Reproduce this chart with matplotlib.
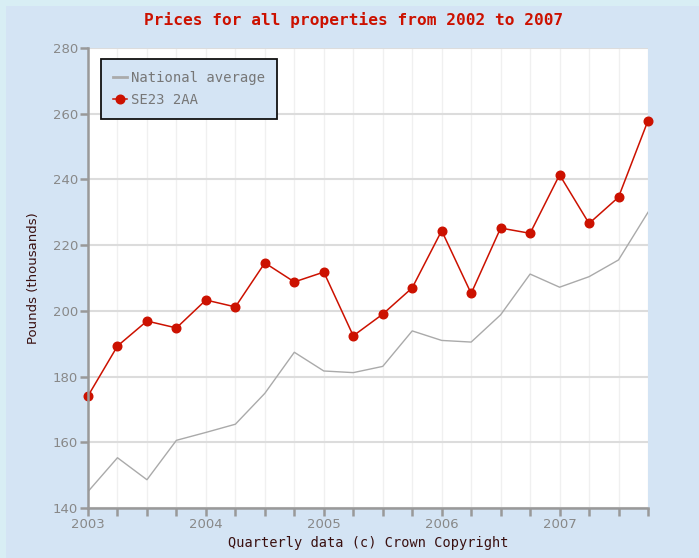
import matplotlib
matplotlib.use("Agg")
import matplotlib.pyplot as plt
from matplotlib.patches import Rectangle
import numpy as np

quarters = [2003 + 0.25 * i for i in range(20)]
national_average = [145.0, 155.3, 148.6, 160.6, 163.0, 165.5, 174.9, 187.4, 181.7, 181.2,
                    183.1, 193.9, 191.0, 190.5, 198.8, 211.2, 207.2, 210.4, 215.5, 230.0]
se23_2aa = [174.1, 189.3, 196.9, 194.8, 203.3, 201.2, 214.6, 208.8, 211.8, 192.4,
            199.0, 207.0, 224.4, 205.3, 225.2, 223.6, 241.4, 226.6, 234.6, 257.9]
year_ticks = [2003, 2004, 2005, 2006, 2007]
y_ticks = [140, 160, 180, 200, 220, 240, 260, 280]

W, H = 699, 558
fig = plt.figure(figsize=(W / 100, H / 100), dpi=100)
fig.patch.set_facecolor("#d8eef4")
fig.patches.append(Rectangle((6 / W, 0), 1, 1 - 6 / H, transform=fig.transFigure,
                             facecolor="#d4e4f4", edgecolor="none", zorder=-10))

ax = fig.add_axes([88 / W, 1 - 508 / H, (648 - 88) / W, (508 - 48) / H])
ax.set_zorder(2)
ax.set_facecolor("white")

ax.plot(quarters, national_average, color="#aaaaaa", lw=1.0, label="National average", zorder=3)
ax.plot(quarters, se23_2aa, color="#cc1100", lw=1.1, marker="o", markersize=6.2,
        markeredgecolor="#cc1100", markerfacecolor="#cc1100", label="SE23 2AA", zorder=4,
        clip_on=False)

ax.set_xlim(2003, 2007.75)
ax.set_ylim(140, 280)

ax.set_xticks(quarters)
ax.set_xticklabels([str(int(q)) if q in year_ticks else "" for q in quarters])
ax.set_yticks(y_ticks)

for y in y_ticks:
    ax.axhline(y, color="#dcdcdc", lw=1.5, zorder=1)
for q in quarters:
    ax.axvline(q, color="#f0f0f0", lw=1.0, zorder=0.5)

for s in ["top", "right"]:
    ax.spines[s].set_visible(False)
for s in ["left", "bottom"]:
    ax.spines[s].set_color("#999999")
    ax.spines[s].set_linewidth(1.8)
    ax.spines[s].set_zorder(5)

ax.tick_params(axis="both", colors="#999999", width=1.8, length=6, labelcolor="#888888",
               labelsize=9.5, pad=1)

ax.set_xlabel("Quarterly data (c) Crown Copyright", family="DejaVu Sans Mono",
              fontsize=9.8, color="#3a1010", labelpad=4)
ax.set_ylabel("Pounds (thousands)", family="DejaVu Sans", fontsize=9.5, color="#3a1010",
              labelpad=9)

fig.text(354 / W, 1 - 20 / H, "Prices for all properties from 2002 to 2007",
         family="DejaVu Sans Mono", fontweight="bold", fontsize=11.6, color="#cc1100",
         ha="center", va="center")

leg = ax.legend(loc="upper left", bbox_to_anchor=(13 / 560, 1 - 11 / 460),
                prop={"family": "DejaVu Sans Mono", "size": 10}, frameon=True,
                fancybox=False, borderpad=0.85, handlelength=1.0, handletextpad=0.3,
                labelspacing=0.6, borderaxespad=0)
leg.get_frame().set_facecolor("#d4e4f4")
leg.get_frame().set_edgecolor("#111111")
leg.get_frame().set_linewidth(1.3)
leg.get_frame().set_alpha(1)
for t in leg.get_texts():
    t.set_color("#777777")
leg.get_lines()[0].set_linewidth(2.0)

fig.savefig("out.png", dpi=100, facecolor=fig.get_facecolor())
